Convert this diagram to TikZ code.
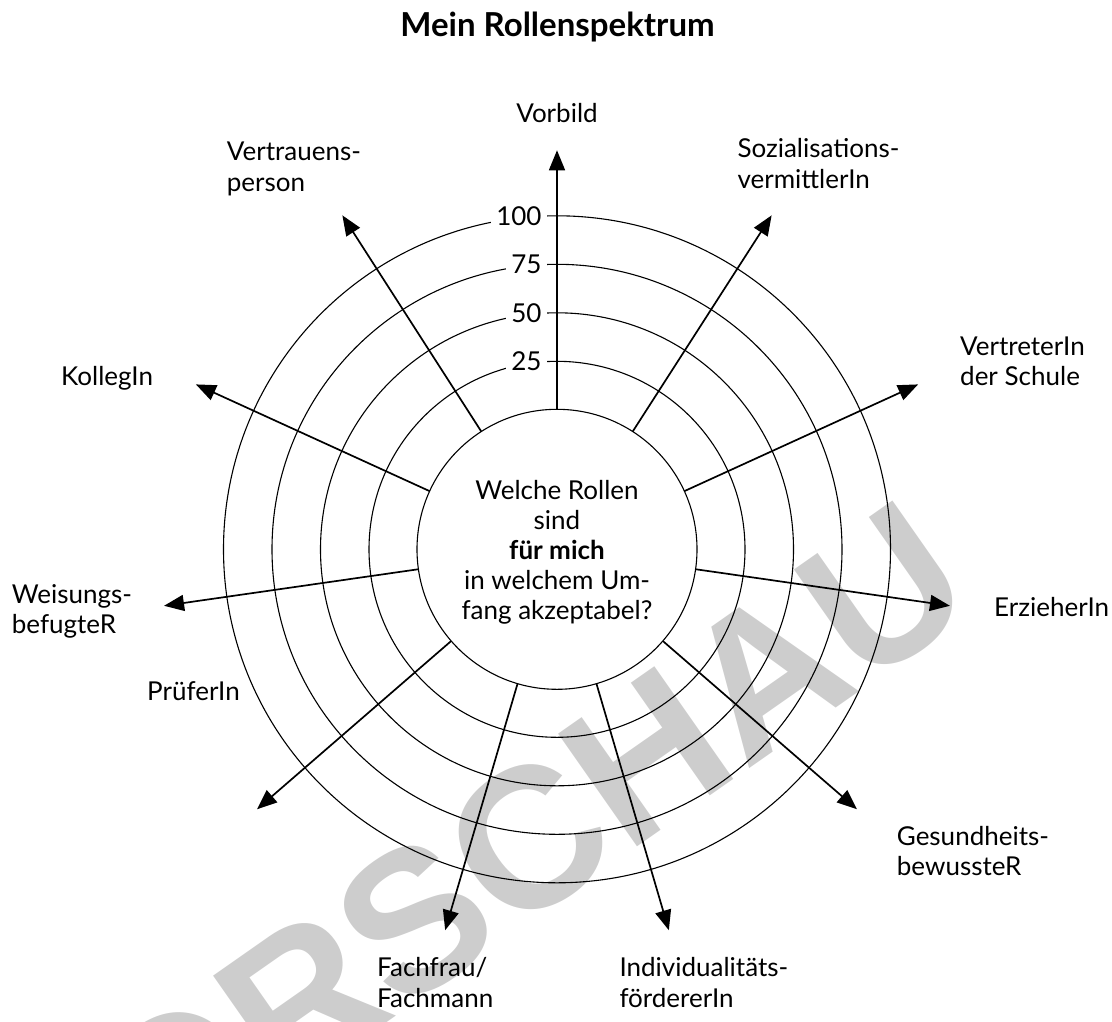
\documentclass[tikz,border=0pt]{standalone}
\usepackage{fontspec}
\setmainfont{Lato}
\newfontfamily\wmfont{Liberation Sans}
\usetikzlibrary{arrows.meta}
\definecolor{wmgray}{RGB}{205,205,205}
\begin{document}
\begin{tikzpicture}[x=1pt,y=-1pt,
  lbl/.style={inner sep=0pt,anchor=base west,align=left,font=\fontsize{26}{30.5}\selectfont},
  gridring/.style={line width=1.1pt},
  spoke/.style={line width=1.7pt,-{Triangle[length=20pt,width=16pt]}},
  val/.style={fill=white,inner xsep=5pt,inner ysep=2pt,anchor=east,font=\fontsize{26}{30}\selectfont}]
\useasboundingbox (0,0) rectangle (1112,1021);
% watermark
\node[inner sep=0pt,anchor=base east,rotate=35,text=wmgray,font=\wmfont\bfseries\fontsize{200}{200}\selectfont] (wm) at (982,606) {VORSCHAU};
\coordinate (C) at (557,549.3);
% rings
\foreach \r in {188,236.5,285,333.5}{
  \draw[gridring] (C) circle (\r pt);
}
% value labels
\node[val] (v25) at (546.7,361.3) {25};
\node[val] (v50) at (546.7,312.8) {50};
\node[val] (v75) at (546.7,264.3) {75};
\node[val] (v100) at (546.7,215.8) {100};
% centre circle
\node[circle,draw,line width=1.1pt,fill=white,minimum size=280pt,inner sep=0pt,outer sep=0pt] (center) at (C) {};
% spokes
\foreach \k in {0,...,10}{
  \pgfmathsetmacro\ang{90-\k*360/11}
  \pgfmathsetmacro\len{\k==0 ? 399 : 397}
  \coordinate (tip\k) at ([shift={(\ang:\len pt)}]C);
  \draw[spoke] (center) -- (tip\k);
}
% central text (base anchor = baseline of last line)
\node[inner sep=0pt,anchor=base,align=center,font=\fontsize{26}{30}\selectfont] (question) at (557,619.3)
  {Welche Rollen\\sind\\\textbf{für mich}\\in welchem Um-\\fang akzeptabel?};
% title
\node[inner sep=0pt,anchor=base,font=\bfseries\fontsize{33}{38}\selectfont] (title) at (557.5,36.7) {Mein Rollenspektrum};
% role labels (base anchor = baseline of last line)
\node[lbl,anchor=base] (vorbild) at (557,122.7) {Vorbild};
\node[lbl] (sozial) at (737.3,188) {Sozialisations-\\vermittlerIn};
\node[lbl] (vertreter) at (960,385.5) {VertreterIn\\der Schule};
\node[lbl] (erzieher) at (994,616) {ErzieherIn};
\node[lbl] (gesund) at (896.7,875.5) {Gesundheits-\\bewussteR};
\node[lbl] (indiv) at (619.3,1007.2) {Individualitäts-\\fördererIn};
\node[lbl] (fach) at (377,1007.2) {Fachfrau/\\Fachmann};
\node[lbl] (pruefer) at (147,700) {PrüferIn};
\node[lbl] (weisung) at (11.7,633.5) {Weisungs-\\befugteR};
\node[lbl] (kollege) at (61,385) {KollegIn};
\node[lbl] (vertrauen) at (226.7,191.2) {Vertrauens-\\person};
\end{tikzpicture}
\end{document}
